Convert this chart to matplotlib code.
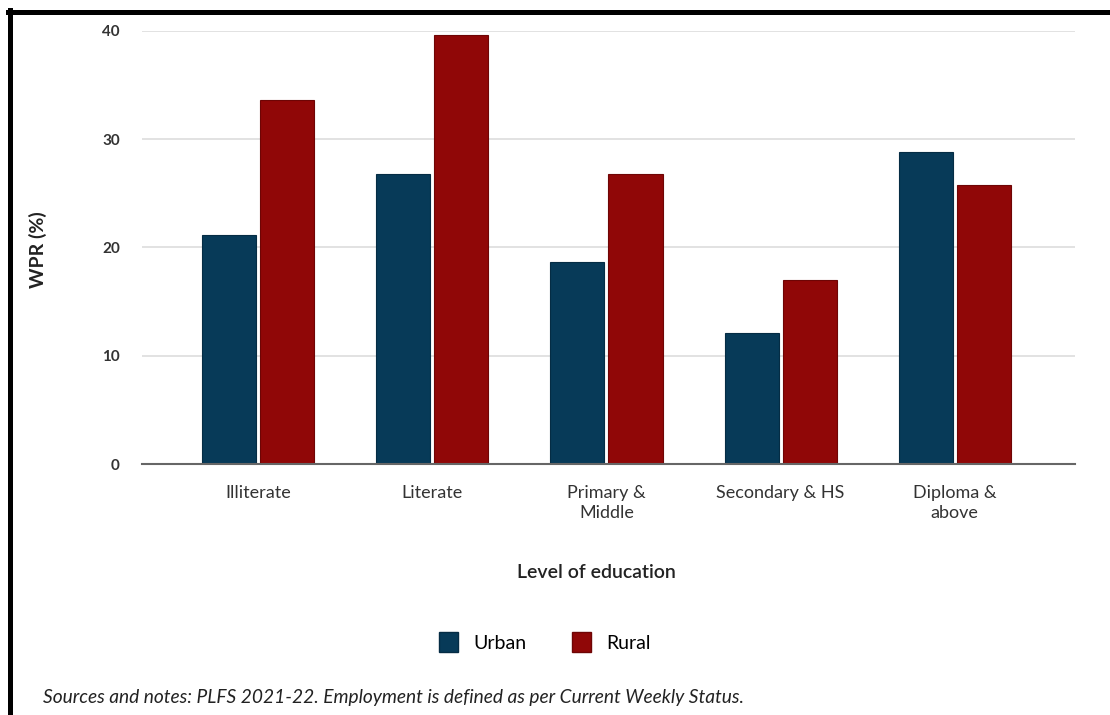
import matplotlib
matplotlib.use("Agg")
import matplotlib.pyplot as plt
from matplotlib.lines import Line2D
from matplotlib.patches import Patch
import numpy as np

categories = ["Illiterate", "Literate", "Primary &\nMiddle", "Secondary & HS", "Diploma &\nabove"]
urban = [21.2, 26.8, 18.7, 12.1, 28.8]
rural = [33.6, 39.6, 26.8, 17.0, 25.8]
yticks = [0, 10, 20, 30, 40]

plt.rcParams['font.family'] = ['Lato', 'DejaVu Sans']

W, H = 1110, 715
fig = plt.figure(figsize=(W / 100, H / 100), dpi=100)
fig.patch.set_facecolor("white")

ax = fig.add_axes([142 / W, 1 - 464 / H, (1075 - 142) / W, (464 - 31) / H])

urban_c = "#073a58"
rural_c = "#900707"
x = np.arange(len(categories))
bw = 0.31
off = 0.167
ax.bar(x - off, urban, bw, color=urban_c, edgecolor="#052c44", linewidth=0.8, zorder=3)
ax.bar(x + off, rural, bw, color=rural_c, edgecolor="#6e0505", linewidth=0.8, zorder=3)

ax.set_xlim(-0.666, 4.69)
ax.set_ylim(0, 40)
ax.set_yticks(yticks)
ax.set_yticklabels([str(v) for v in yticks], fontsize=11, fontweight="bold", color="#333333")
ax.set_xticks(x)
ax.set_xticklabels(categories, fontsize=13, color="#333333", linespacing=1.3)
ax.tick_params(axis="both", length=0)
ax.tick_params(axis="y", pad=16)
ax.tick_params(axis="x", pad=15)

ax.grid(axis="y", color="#dddddd", linewidth=1.2, zorder=0)
ax.set_axisbelow(True)
for s in ["top", "right", "left"]:
    ax.spines[s].set_visible(False)
ax.spines["bottom"].set_color("#666666")
ax.spines["bottom"].set_linewidth(1.5)
ax.spines["bottom"].set_zorder(4)

fig.text(38 / W, 1 - 250 / H, "WPR (%)", rotation=90, ha="center", va="center",
         fontsize=14, fontweight="bold", color="#222222")
fig.text(596 / W, 1 - 572 / H, "Level of education", ha="center", va="center",
         fontsize=14, fontweight="semibold", color="#222222")

handles = [Patch(facecolor=urban_c, edgecolor="#052c44", label="Urban"),
           Patch(facecolor=rural_c, edgecolor="#6e0505", label="Rural")]
fig.legend(handles=handles, loc="center", bbox_to_anchor=(545 / W, 1 - 642 / H), ncol=2,
           frameon=False, fontsize=14, handlelength=1.0, handleheight=1.2,
           handletextpad=0.8, columnspacing=2.3)

fig.text(43 / W, 1 - 697 / H,
         "Sources and notes: PLFS 2021-22. Employment is defined as per Current Weekly Status.",
         ha="left", va="center", fontsize=13.8, style="italic", color="#222222")

fig.add_artist(Line2D([8 / W, 1], [1 - 12 / H, 1 - 12 / H], color="black", linewidth=3.6,
                      transform=fig.transFigure))
fig.add_artist(Line2D([10 / W, 10 / W], [1 - 10 / H, 0], color="black", linewidth=3.6,
                      transform=fig.transFigure))

fig.savefig("out.png", dpi=100, facecolor="white")
